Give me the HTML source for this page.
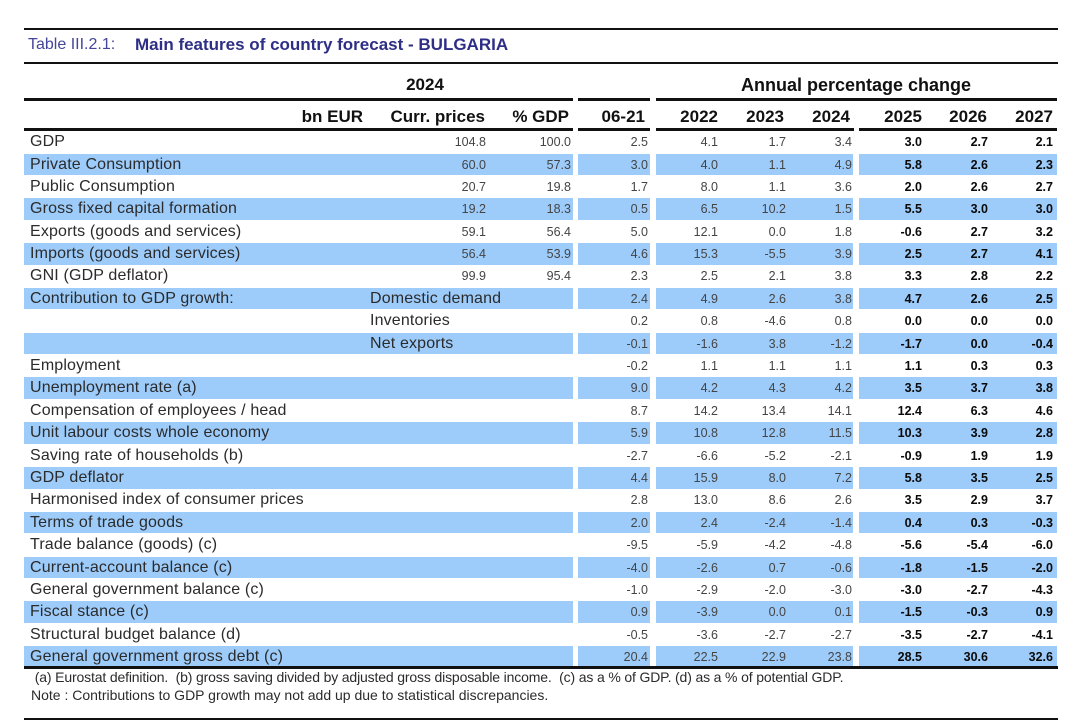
<!DOCTYPE html>
<html>
<head>
<meta charset="utf-8">
<style>
  html, body { margin:0; padding:0; background:#fff; }
  body { width:1067px; height:728px; position:relative; overflow:hidden; font-family:"Liberation Sans", Arial, sans-serif; }
  .ln { position:absolute; background:#111; }
  .t { position:absolute; white-space:pre; }
  .hd { position:absolute; font-weight:bold; font-size:17px; color:#111; line-height:24px; top:105px; white-space:pre; }
  .r { position:absolute; left:0; width:1067px; height:22.4px; }
  .b { position:absolute; top:0.5px; height:21.6px; }
  .s .b { background:#9DCCFB; }
  .b1 { left:24px; width:549px; }
  .b2 { left:578px; width:72px; }
  .b3 { left:656px; width:197px; }
  .b4 { left:859px; width:198px; }
  .l { position:absolute; left:30px; top:0.5px; line-height:22.4px; font-size:16px; color:#2b2b2b; letter-spacing:0.15px; white-space:pre; }
  .l2 { left:370px; }
  .v { position:absolute; top:0.5px; line-height:22.4px; font-size:12.5px; color:#444; text-align:right; width:60px; }
  .k { font-weight:bold; color:#0a0a0a; }
  .c0 { right:581px; } .c1 { right:496px; } .c2 { right:419px; } .c3 { right:349px; }
  .c4 { right:281px; } .c5 { right:215px; } .c6 { right:145px; } .c7 { right:79px; } .c8 { right:14px; }
</style>
</head>
<body>
<!-- title lines -->
<div class="ln" style="left:24px;top:28px;width:1034px;height:2px;"></div>
<div class="ln" style="left:24px;top:62px;width:1034px;height:2px;"></div>
<div class="t" style="left:28px;top:35px;line-height:20px;font-size:16px;color:#45459a;">Table III.2.1:</div>
<div class="t" style="left:135px;top:35px;line-height:20px;font-size:17px;font-weight:bold;color:#2e2e86;">Main features of country forecast - BULGARIA</div>

<!-- group headers -->
<div class="t" style="left:325px;width:200px;text-align:center;top:73px;line-height:24px;font-size:17px;font-weight:bold;color:#111;">2024</div>
<div class="t" style="left:706px;width:300px;text-align:center;top:73px;line-height:24px;font-size:18px;font-weight:bold;color:#111;">Annual percentage change</div>

<!-- header lines -->
<div class="ln" style="left:24px;top:98px;width:549px;height:3px;"></div>
<div class="ln" style="left:578px;top:98px;width:72px;height:3px;"></div>
<div class="ln" style="left:656px;top:98px;width:401px;height:3px;"></div>

<div class="hd" style="right:704px;">bn EUR</div>
<div class="hd" style="right:582px;">Curr. prices</div>
<div class="hd" style="right:498px;">% GDP</div>
<div class="hd" style="right:422px;">06-21</div>
<div class="hd" style="right:349px;">2022</div>
<div class="hd" style="right:283px;">2023</div>
<div class="hd" style="right:217px;">2024</div>
<div class="hd" style="right:145px;">2025</div>
<div class="hd" style="right:80px;">2026</div>
<div class="hd" style="right:14px;">2027</div>

<div class="ln" style="left:24px;top:128px;width:549px;height:3px;"></div>
<div class="ln" style="left:578px;top:128px;width:72px;height:3px;"></div>
<div class="ln" style="left:656px;top:128px;width:198px;height:3px;"></div>
<div class="ln" style="left:859px;top:128px;width:198px;height:3px;"></div>

<!-- rows -->
<div class="r" style="top:130.6px;"><div class="b b1"></div><div class="b b2"></div><div class="b b3"></div><div class="b b4"></div>
<span class="l">GDP</span><span class="v c0">104.8</span><span class="v c1">100.0</span><span class="v c2">2.5</span><span class="v c3">4.1</span><span class="v c4">1.7</span><span class="v c5">3.4</span><span class="v k c6">3.0</span><span class="v k c7">2.7</span><span class="v k c8">2.1</span></div>

<div class="r s" style="top:153.0px;"><div class="b b1"></div><div class="b b2"></div><div class="b b3"></div><div class="b b4"></div>
<span class="l">Private Consumption</span><span class="v c0">60.0</span><span class="v c1">57.3</span><span class="v c2">3.0</span><span class="v c3">4.0</span><span class="v c4">1.1</span><span class="v c5">4.9</span><span class="v k c6">5.8</span><span class="v k c7">2.6</span><span class="v k c8">2.3</span></div>

<div class="r" style="top:175.4px;"><div class="b b1"></div><div class="b b2"></div><div class="b b3"></div><div class="b b4"></div>
<span class="l">Public Consumption</span><span class="v c0">20.7</span><span class="v c1">19.8</span><span class="v c2">1.7</span><span class="v c3">8.0</span><span class="v c4">1.1</span><span class="v c5">3.6</span><span class="v k c6">2.0</span><span class="v k c7">2.6</span><span class="v k c8">2.7</span></div>

<div class="r s" style="top:197.8px;"><div class="b b1"></div><div class="b b2"></div><div class="b b3"></div><div class="b b4"></div>
<span class="l">Gross fixed capital formation</span><span class="v c0">19.2</span><span class="v c1">18.3</span><span class="v c2">0.5</span><span class="v c3">6.5</span><span class="v c4">10.2</span><span class="v c5">1.5</span><span class="v k c6">5.5</span><span class="v k c7">3.0</span><span class="v k c8">3.0</span></div>

<div class="r" style="top:220.2px;"><div class="b b1"></div><div class="b b2"></div><div class="b b3"></div><div class="b b4"></div>
<span class="l">Exports (goods and services)</span><span class="v c0">59.1</span><span class="v c1">56.4</span><span class="v c2">5.0</span><span class="v c3">12.1</span><span class="v c4">0.0</span><span class="v c5">1.8</span><span class="v k c6">-0.6</span><span class="v k c7">2.7</span><span class="v k c8">3.2</span></div>

<div class="r s" style="top:242.6px;"><div class="b b1"></div><div class="b b2"></div><div class="b b3"></div><div class="b b4"></div>
<span class="l">Imports (goods and services)</span><span class="v c0">56.4</span><span class="v c1">53.9</span><span class="v c2">4.6</span><span class="v c3">15.3</span><span class="v c4">-5.5</span><span class="v c5">3.9</span><span class="v k c6">2.5</span><span class="v k c7">2.7</span><span class="v k c8">4.1</span></div>

<div class="r" style="top:264.9px;"><div class="b b1"></div><div class="b b2"></div><div class="b b3"></div><div class="b b4"></div>
<span class="l">GNI (GDP deflator)</span><span class="v c0">99.9</span><span class="v c1">95.4</span><span class="v c2">2.3</span><span class="v c3">2.5</span><span class="v c4">2.1</span><span class="v c5">3.8</span><span class="v k c6">3.3</span><span class="v k c7">2.8</span><span class="v k c8">2.2</span></div>

<div class="r s" style="top:287.3px;"><div class="b b1"></div><div class="b b2"></div><div class="b b3"></div><div class="b b4"></div>
<span class="l">Contribution to GDP growth:</span><span class="l l2">Domestic demand</span><span class="v c2">2.4</span><span class="v c3">4.9</span><span class="v c4">2.6</span><span class="v c5">3.8</span><span class="v k c6">4.7</span><span class="v k c7">2.6</span><span class="v k c8">2.5</span></div>

<div class="r" style="top:309.7px;"><div class="b b1"></div><div class="b b2"></div><div class="b b3"></div><div class="b b4"></div>
<span class="l l2">Inventories</span><span class="v c2">0.2</span><span class="v c3">0.8</span><span class="v c4">-4.6</span><span class="v c5">0.8</span><span class="v k c6">0.0</span><span class="v k c7">0.0</span><span class="v k c8">0.0</span></div>

<div class="r s" style="top:332.1px;"><div class="b b1"></div><div class="b b2"></div><div class="b b3"></div><div class="b b4"></div>
<span class="l l2">Net exports</span><span class="v c2">-0.1</span><span class="v c3">-1.6</span><span class="v c4">3.8</span><span class="v c5">-1.2</span><span class="v k c6">-1.7</span><span class="v k c7">0.0</span><span class="v k c8">-0.4</span></div>

<div class="r" style="top:354.5px;"><div class="b b1"></div><div class="b b2"></div><div class="b b3"></div><div class="b b4"></div>
<span class="l">Employment</span><span class="v c2">-0.2</span><span class="v c3">1.1</span><span class="v c4">1.1</span><span class="v c5">1.1</span><span class="v k c6">1.1</span><span class="v k c7">0.3</span><span class="v k c8">0.3</span></div>

<div class="r s" style="top:376.9px;"><div class="b b1"></div><div class="b b2"></div><div class="b b3"></div><div class="b b4"></div>
<span class="l">Unemployment rate (a)</span><span class="v c2">9.0</span><span class="v c3">4.2</span><span class="v c4">4.3</span><span class="v c5">4.2</span><span class="v k c6">3.5</span><span class="v k c7">3.7</span><span class="v k c8">3.8</span></div>

<div class="r" style="top:399.3px;"><div class="b b1"></div><div class="b b2"></div><div class="b b3"></div><div class="b b4"></div>
<span class="l">Compensation of employees / head</span><span class="v c2">8.7</span><span class="v c3">14.2</span><span class="v c4">13.4</span><span class="v c5">14.1</span><span class="v k c6">12.4</span><span class="v k c7">6.3</span><span class="v k c8">4.6</span></div>

<div class="r s" style="top:421.7px;"><div class="b b1"></div><div class="b b2"></div><div class="b b3"></div><div class="b b4"></div>
<span class="l">Unit labour costs whole economy</span><span class="v c2">5.9</span><span class="v c3">10.8</span><span class="v c4">12.8</span><span class="v c5">11.5</span><span class="v k c6">10.3</span><span class="v k c7">3.9</span><span class="v k c8">2.8</span></div>

<div class="r" style="top:444.1px;"><div class="b b1"></div><div class="b b2"></div><div class="b b3"></div><div class="b b4"></div>
<span class="l">Saving rate of households (b)</span><span class="v c2">-2.7</span><span class="v c3">-6.6</span><span class="v c4">-5.2</span><span class="v c5">-2.1</span><span class="v k c6">-0.9</span><span class="v k c7">1.9</span><span class="v k c8">1.9</span></div>

<div class="r s" style="top:466.5px;"><div class="b b1"></div><div class="b b2"></div><div class="b b3"></div><div class="b b4"></div>
<span class="l">GDP deflator</span><span class="v c2">4.4</span><span class="v c3">15.9</span><span class="v c4">8.0</span><span class="v c5">7.2</span><span class="v k c6">5.8</span><span class="v k c7">3.5</span><span class="v k c8">2.5</span></div>

<div class="r" style="top:488.8px;"><div class="b b1"></div><div class="b b2"></div><div class="b b3"></div><div class="b b4"></div>
<span class="l">Harmonised index of consumer prices</span><span class="v c2">2.8</span><span class="v c3">13.0</span><span class="v c4">8.6</span><span class="v c5">2.6</span><span class="v k c6">3.5</span><span class="v k c7">2.9</span><span class="v k c8">3.7</span></div>

<div class="r s" style="top:511.2px;"><div class="b b1"></div><div class="b b2"></div><div class="b b3"></div><div class="b b4"></div>
<span class="l">Terms of trade goods</span><span class="v c2">2.0</span><span class="v c3">2.4</span><span class="v c4">-2.4</span><span class="v c5">-1.4</span><span class="v k c6">0.4</span><span class="v k c7">0.3</span><span class="v k c8">-0.3</span></div>

<div class="r" style="top:533.6px;"><div class="b b1"></div><div class="b b2"></div><div class="b b3"></div><div class="b b4"></div>
<span class="l">Trade balance (goods) (c)</span><span class="v c2">-9.5</span><span class="v c3">-5.9</span><span class="v c4">-4.2</span><span class="v c5">-4.8</span><span class="v k c6">-5.6</span><span class="v k c7">-5.4</span><span class="v k c8">-6.0</span></div>

<div class="r s" style="top:556.0px;"><div class="b b1"></div><div class="b b2"></div><div class="b b3"></div><div class="b b4"></div>
<span class="l">Current-account balance (c)</span><span class="v c2">-4.0</span><span class="v c3">-2.6</span><span class="v c4">0.7</span><span class="v c5">-0.6</span><span class="v k c6">-1.8</span><span class="v k c7">-1.5</span><span class="v k c8">-2.0</span></div>

<div class="r" style="top:578.4px;"><div class="b b1"></div><div class="b b2"></div><div class="b b3"></div><div class="b b4"></div>
<span class="l">General government balance (c)</span><span class="v c2">-1.0</span><span class="v c3">-2.9</span><span class="v c4">-2.0</span><span class="v c5">-3.0</span><span class="v k c6">-3.0</span><span class="v k c7">-2.7</span><span class="v k c8">-4.3</span></div>

<div class="r s" style="top:600.8px;"><div class="b b1"></div><div class="b b2"></div><div class="b b3"></div><div class="b b4"></div>
<span class="l">Fiscal stance (c)</span><span class="v c2">0.9</span><span class="v c3">-3.9</span><span class="v c4">0.0</span><span class="v c5">0.1</span><span class="v k c6">-1.5</span><span class="v k c7">-0.3</span><span class="v k c8">0.9</span></div>

<div class="r" style="top:623.2px;"><div class="b b1"></div><div class="b b2"></div><div class="b b3"></div><div class="b b4"></div>
<span class="l">Structural budget balance (d)</span><span class="v c2">-0.5</span><span class="v c3">-3.6</span><span class="v c4">-2.7</span><span class="v c5">-2.7</span><span class="v k c6">-3.5</span><span class="v k c7">-2.7</span><span class="v k c8">-4.1</span></div>

<div class="r s" style="top:645.6px;"><div class="b b1"></div><div class="b b2"></div><div class="b b3"></div><div class="b b4"></div>
<span class="l">General government gross debt (c)</span><span class="v c2">20.4</span><span class="v c3">22.5</span><span class="v c4">22.9</span><span class="v c5">23.8</span><span class="v k c6">28.5</span><span class="v k c7">30.6</span><span class="v k c8">32.6</span></div>

<!-- bottom line -->
<div class="ln" style="left:24px;top:666px;width:1034px;height:3px;"></div>

<!-- footnotes -->
<div class="t" style="left:31px;top:668px;line-height:18px;font-size:14px;color:#2b2b2b;letter-spacing:-0.15px;"> (a) Eurostat definition.  (b) gross saving divided by adjusted gross disposable income.  (c) as a % of GDP. (d) as a % of potential GDP.</div>
<div class="t" style="left:31px;top:686px;line-height:18px;font-size:14px;color:#2b2b2b;">Note : Contributions to GDP growth may not add up due to statistical discrepancies.</div>

<div class="ln" style="left:24px;top:718px;width:1034px;height:2px;"></div>
</body>
</html>
